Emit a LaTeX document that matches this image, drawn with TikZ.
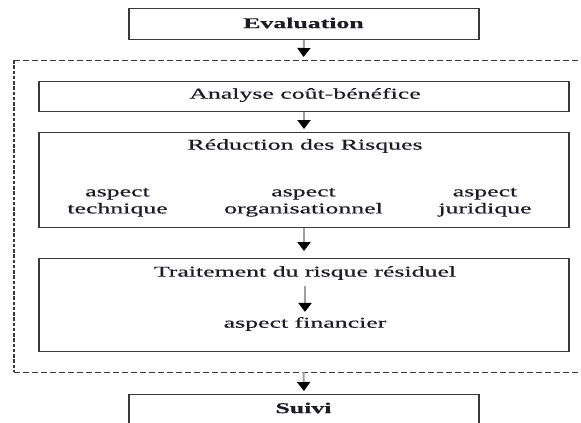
\documentclass[tikz,border=0pt]{standalone}
\usepackage{fontspec}
\usepackage{graphicx}
\setmainfont{Liberation Serif}[FakeBold=0.35]
\usetikzlibrary{arrows.meta}

\definecolor{ink}{HTML}{1C1C28}
\definecolor{frame}{HTML}{3A3A3A}
\definecolor{shaft}{HTML}{A0A0A0}

% wide lettering: the serif face stretched horizontally
\newcommand\wide[1]{\scalebox{1.72}[1]{#1}}
\newcommand\widetwo[2]{\scalebox{1.72}[1]{\begin{tabular}{@{}c@{}}#1\\#2\end{tabular}}}

\begin{document}
\begin{tikzpicture}[x=1pt,y=-1pt,
  font=\fontsize{15}{17}\selectfont,
  box/.style={draw=frame, line width=1pt, fill=white, inner sep=0pt, anchor=north west},
  label/.style={text=ink, inner sep=0pt, anchor=center},
  flow/.style={draw=shaft, line width=2pt,
    -{Triangle[width=13pt,length=9pt,color=black]}, shorten >=3pt},
  hdash/.style={draw=frame, line width=1pt, dash pattern=on 6pt off 3pt},
  vdash/.style={draw=frame, line width=1.6pt, dash pattern=on 3.5pt off 1.75pt}]

\useasboundingbox (0,0) rectangle (581,423);
\clip (0,0) rectangle (581,423);
\fill[white] (0,0) rectangle (581,423);

% dashed enclosure (its right side runs off the page)
\coordinate (dnw) at (14,60);
\coordinate (dne) at (600,60);
\coordinate (dsw) at (14,372);
\coordinate (dse) at (600,372);
\coordinate (dtop) at (303.5,60);
\coordinate (dbot) at (303.5,372);
\draw[hdash] (dnw) -- (dne);
\draw[hdash] (dsw) -- (dse);
\draw[vdash] (dnw) -- (dsw);

% boxes
\node[box, minimum width=349pt, minimum height=31pt] (eval) at (129,8) {};
\node[box, minimum width=529pt, minimum height=30pt] (analyse) at (39,81) {};
\node[box, minimum width=529pt, minimum height=95pt] (reduc) at (39,132) {};
\node[box, minimum width=529pt, minimum height=93pt] (trait) at (39,258) {};
\node[box, minimum width=349pt, minimum height=40pt] (suivi) at (129,394) {};

% heavier upright edges
\foreach \n in {eval,analyse,reduc,trait,suivi}
  \draw[frame, line width=1.8pt] (\n.north west) -- (\n.south west)
                                 (\n.north east) -- (\n.south east);

% texts
\node[label] (tEval) at (303.5,23) {\wide{\bfseries Evaluation}};
\node[label] (tAnalyse) at (305,95) {\wide{Analyse coût-bénéfice}};
\node[label] (tReduc) at (305,146) {\wide{Réduction des Risques}};
\node[label] (tTech) at (117.5,201.5) {\widetwo{aspect}{technique}};
\node[label] (tOrga) at (303.5,201.5) {\widetwo{aspect}{organisationnel}};
\node[label] (tJuri) at (485,201.5) {\widetwo{aspect}{juridique}};
\node[label] (tTrait) at (305,273) {\wide{Traitement du risque résiduel}};
\node[label] (tFin) at (305,324) {\wide{aspect financier}};
\node[label] (tSuivi) at (303.5,408) {\wide{\bfseries Suivi}};

% connectors
\draw[flow] (eval.south) -- (dtop);
\draw[flow] (analyse.south) -- (reduc.north);
\draw[flow, shorten >=7pt] (reduc.south) -- (trait.north);
\draw[flow, shorten <=6pt, shorten >=5pt] (tTrait.south) -- (tFin.north);
\draw[flow] (dbot) -- (suivi.north);

\end{tikzpicture}
\end{document}
